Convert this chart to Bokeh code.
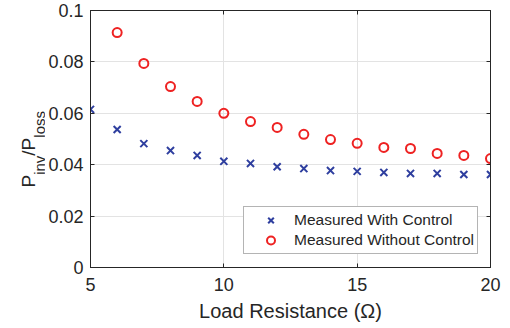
from math import pi
from bokeh.plotting import figure
from bokeh.layouts import row
from bokeh.models import (LinearAxis, Range1d, Legend, LegendItem,
                          FixedTicker, CustomJSTickFormatter)
from bokeh.core.properties import value
from bokeh.embed import file_html
from bokeh.resources import INLINE

# ---- data ----
r_with = [5, 6, 7, 8, 9, 10, 11, 12, 13, 14, 15, 16, 17, 18, 19, 20]
with_control = [0.0615, 0.0537, 0.0482, 0.0455, 0.0436, 0.0413, 0.0405, 0.0392,
                 0.0385, 0.0377, 0.0374, 0.0370, 0.0366, 0.0366, 0.0362, 0.0362]
r_without = [6, 7, 8, 9, 10, 11, 12, 13, 14, 15, 16, 17, 18, 19, 20]
without_control = [0.0914, 0.0794, 0.0704, 0.0646, 0.0600, 0.0568, 0.0545, 0.0518,
                   0.0498, 0.0483, 0.0467, 0.0463, 0.0444, 0.0436, 0.0424]
x_ticks = [5, 10, 15, 20]
y_ticks = [0, 0.02, 0.04, 0.06, 0.08, 0.1]
y_tick_labels = ["0", "0.02", "0.04", "0.06", "0.08", "0.1"]
x_label = "Load Resistance (\u03a9)"
y_label_parts = ["P", "inv", "/P", "loss"]
series_names = ["Measured With Control", "Measured Without Control"]

FONT = "Liberation Sans"
AX = "#262626"
GRID = "#e3e3e3"
BLUE = "#2f3f9f"
RED = "#ee2222"

# layout constants (pixels)
LW = 45                      # width of the y-label strip
TOP, FH, BOT = 10, 257, 70   # main plot: top border, frame height, bottom border
H = TOP + FH + BOT           # common height of both figures

# ---------------- y-axis label strip (rotated text with subscripts) -------------
lab = figure(frame_width=LW, frame_height=H, x_range=Range1d(0, LW),
             y_range=Range1d(0, H), output_backend="svg", toolbar_location=None,
             min_border=0, x_axis_location=None, y_axis_location=None)
lab.grid.visible = False
lab.outline_line_color = None
lab.title.visible = False

main_fs, sub_fs = 19, 15
main_x, sub_x = 27.5, 38.5
part_fs = [main_fs, sub_fs, main_fs, sub_fs]
part_x = [main_x, sub_x, main_x, sub_x]
part_em = [0.667, 1.278, 0.945, 1.778]       # advance widths in em
y_pos = H - 177                              # label starts 177 px from the top
for t, fs, xx, em in zip(y_label_parts, part_fs, part_x, part_em):
    lab.text(x=[xx], y=[y_pos], text=[t], angle=pi / 2, text_font=value(FONT),
             text_font_size=value(f"{fs}px"), text_color=AX, text_align="left",
             text_baseline="alphabetic")
    y_pos += em * fs

# ---------------- main plot ----------------
p = figure(frame_width=400, frame_height=FH,
           x_range=Range1d(5, 20), y_range=Range1d(0, 0.1),
           output_backend="svg", toolbar_location=None,
           min_border_left=90 - LW, min_border_right=20, min_border_top=TOP,
           min_border_bottom=BOT, background_fill_color="white",
           border_fill_color="white")
p.outline_line_color = AX
p.outline_line_width = 1
p.title.visible = False

xa = p.xaxis[0]
xa.ticker = FixedTicker(ticks=x_ticks)
xa.axis_label = x_label
ya = p.yaxis[0]
ya.ticker = FixedTicker(ticks=y_ticks)
ya.formatter = CustomJSTickFormatter(args=dict(labels=y_tick_labels),
                                     code="return labels[index]")

for ax in (xa, ya):
    ax.major_tick_in = 4
    ax.major_tick_out = 0
    ax.minor_tick_in = 0
    ax.minor_tick_out = 0
    ax.axis_line_color = AX
    ax.axis_line_width = 1
    ax.major_tick_line_color = AX
    ax.major_label_text_font = FONT
    ax.major_label_text_font_size = "18px"
    ax.major_label_text_color = AX
xa.major_label_standoff = 10
ya.major_label_standoff = 7
xa.axis_label_text_font = FONT
xa.axis_label_text_font_size = "20px"
xa.axis_label_text_font_style = "normal"
xa.axis_label_text_color = AX
xa.axis_label_standoff = 6

top = LinearAxis(ticker=FixedTicker(ticks=x_ticks),
                 major_tick_in=4, major_tick_out=0, minor_tick_in=0, minor_tick_out=0,
                 major_label_standoff=0, major_label_text_font_size="0px",
                 major_label_text_alpha=0,
                 axis_line_color=AX, major_tick_line_color=AX)
right = LinearAxis(ticker=FixedTicker(ticks=y_ticks),
                   major_tick_in=4, major_tick_out=0, minor_tick_in=0, minor_tick_out=0,
                   major_label_standoff=0, major_label_text_font_size="0px",
                   major_label_text_alpha=0,
                   axis_line_color=AX, major_tick_line_color=AX)
p.add_layout(top, "above")
p.add_layout(right, "right")

p.xgrid.ticker = FixedTicker(ticks=x_ticks)
p.ygrid.ticker = FixedTicker(ticks=y_ticks)
p.xgrid.grid_line_color = GRID
p.ygrid.grid_line_color = GRID

r1 = p.scatter(r_with, with_control, marker="x", size=10, line_color=BLUE,
               line_width=2)
r2 = p.scatter(r_without, without_control, marker="circle", size=9,
               line_color=RED, fill_color=None, line_width=2)

legend = Legend(items=[LegendItem(label=series_names[0], renderers=[r1]),
                       LegendItem(label=series_names[1], renderers=[r2])],
                location=(153, 13), padding=3, spacing=0, margin=0,
                glyph_width=47, glyph_height=20, label_height=20,
                label_standoff=0, label_text_font=FONT,
                label_text_font_size="15.5px", label_text_color=AX,
                border_line_color="#6a6a6a", border_line_width=1,
                background_fill_color="white", background_fill_alpha=1)
p.add_layout(legend)

layout = row(lab, p, spacing=0)
open("out.html", "w").write(file_html(layout, INLINE))
